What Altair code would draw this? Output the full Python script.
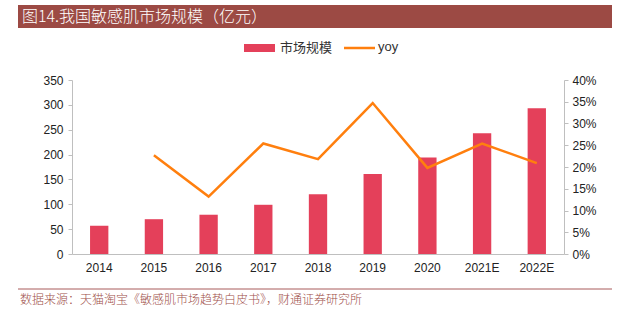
import altair as alt
import pandas as pd

years = ["2014", "2015", "2016", "2017", "2018", "2019", "2020", "2021E", "2022E"]
market = [57, 70, 79, 99, 120, 161, 194, 243, 293]
yoy = [None, 0.227, 0.132, 0.254, 0.218, 0.347, 0.198, 0.254, 0.209]

title_text = "图14.我国敏感肌市场规模（亿元）"
source_text = "数据来源：天猫淘宝《敏感肌市场趋势白皮书》，财通证券研究所"
legend_bar = "市场规模"
legend_line = "yoy"

BAR = "#e4405a"
LINE = "#ff7f0e"
BAND = "#9c4a44"
FONT = "Liberation Sans"
CJK = "Noto Sans CJK SC"

df = pd.DataFrame({"year": years, "market": market, "yoy": yoy})
one = pd.DataFrame({"k": [0]})

xenc = alt.X("year:N", sort=years, title=None,
             scale=alt.Scale(paddingInner=0.665, paddingOuter=0.33),
             axis=alt.Axis(labelAngle=0, ticks=False, domainColor="#bfbfbf",
                           labelFont=FONT, labelFontSize=12, labelColor="#222",
                           labelPadding=8))

bars = alt.Chart(df).mark_bar(color=BAR).encode(
    x=xenc,
    y=alt.Y("market:Q", title=None,
            scale=alt.Scale(domain=[0, 350], nice=False),
            axis=alt.Axis(values=list(range(0, 351, 50)), grid=False,
                          domainColor="#bfbfbf", tickColor="#bfbfbf", tickSize=4,
                          labelFont=FONT, labelFontSize=12, labelColor="#222",
                          labelPadding=5))
)

line = alt.Chart(df).transform_filter("datum.yoy != null").mark_line(
    color=LINE, strokeWidth=2.5).encode(
    x=alt.X("year:N", sort=years),
    y=alt.Y("yoy:Q", title=None,
            scale=alt.Scale(domain=[0, 0.4], nice=False),
            axis=alt.Axis(orient="right", format=".0%",
                          values=[i * 0.05 for i in range(9)], grid=False,
                          domainColor="#bfbfbf", tickColor="#bfbfbf", tickSize=4,
                          labelFont=FONT, labelFontSize=12, labelColor="#222",
                          labelPadding=4))
)

band = alt.Chart(one).mark_rect(color=BAND).encode(
    x=alt.value(-54), x2=alt.value(540), y=alt.value(-75), y2=alt.value(-52))
title = alt.Chart(one).mark_text(align="left", baseline="middle", color="white",
                                 font=CJK, fontSize=16, fontWeight=300).encode(
    x=alt.value(-50), y=alt.value(-63), text=alt.value(title_text))

leg_rect = alt.Chart(one).mark_rect(color=BAR).encode(
    x=alt.value(172), x2=alt.value(203), y=alt.value(-36), y2=alt.value(-28))
leg_t1 = alt.Chart(one).mark_text(align="left", baseline="middle", color="#333",
                                  font=CJK, fontSize=13).encode(
    x=alt.value(208), y=alt.value(-32), text=alt.value(legend_bar))
leg_line = alt.Chart(one).mark_rule(color=LINE, strokeWidth=2.5).encode(
    x=alt.value(272), x2=alt.value(303), y=alt.value(-32))
leg_t2 = alt.Chart(one).mark_text(align="left", baseline="middle", color="#333",
                                  font=FONT, fontSize=13).encode(
    x=alt.value(306), y=alt.value(-33), text=alt.value(legend_line))

foot_rule = alt.Chart(one).mark_rule(color="#a85a5a", strokeWidth=1).encode(
    x=alt.value(-54), x2=alt.value(540), y=alt.value(209))
foot_text = alt.Chart(one).mark_text(align="left", baseline="middle", color="#a0504a",
                                     font=CJK, fontSize=12, fontWeight=300).encode(
    x=alt.value(-52), y=alt.value(220), text=alt.value(source_text))

chart = alt.layer(
    bars, line, band, title, leg_rect, leg_t1, leg_line, leg_t2, foot_rule, foot_text
).resolve_scale(y="independent").properties(
    width=492, height=174,
    autosize=alt.AutoSizeParams(type="none"),
    padding={"left": 72, "top": 80, "right": 55, "bottom": 70},
    background="white",
).configure_view(stroke=None)

chart.save("out.html", embed_options={"renderer": "svg", "actions": False})
